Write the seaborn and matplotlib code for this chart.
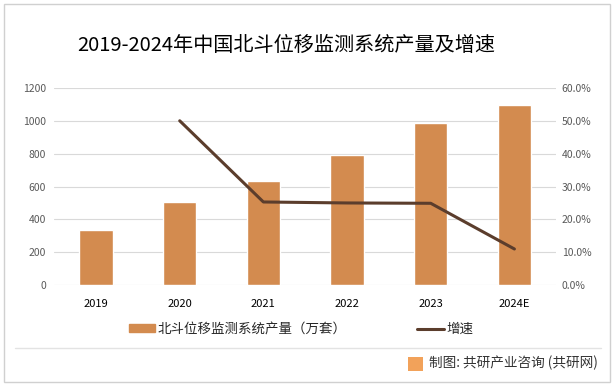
import numpy as np
import pandas as pd
import matplotlib
matplotlib.use('Agg')
import matplotlib.pyplot as plt
import seaborn as sns
from matplotlib.patches import Rectangle, Patch
from matplotlib.lines import Line2D

# 数据
years = ['2019', '2020', '2021', '2022', '2023', '2024E']
output = [335, 505, 634, 792, 987, 1096]          # 万套
growth = [np.nan, 50.0, 25.3, 25.0, 24.9, 11.0]   # %

sns.set_theme(style='white')
plt.rcParams['font.family'] = ['Noto Sans CJK SC', 'DejaVu Sans']

bar_color = '#D38B4F'
line_color = '#5B3D2C'
grid_color = '#D9D9D9'
tick_color = '#595959'

df = pd.DataFrame({'年份': years, '产量': output, '增速': growth})

fig = plt.figure(figsize=(6.16, 3.89), dpi=100)
ax = fig.add_axes([0.088, 0.267, 0.815, 0.507])

sns.barplot(data=df, x='年份', y='产量', color=bar_color, width=0.4,
            saturation=1, ax=ax, zorder=2)
ax.set_ylim(0, 1200)
ax.set_yticks(range(0, 1201, 200))
ax.yaxis.grid(True, color=grid_color, linewidth=0.8, zorder=0)
ax.set_axisbelow(True)
ax.set_xlabel('')
ax.set_ylabel('')
for s in ax.spines.values():
    s.set_visible(False)
ax.tick_params(axis='y', length=0, labelsize=7.5, colors=tick_color, pad=6)
ax.tick_params(axis='x', length=0, labelsize=8, colors='#000000', pad=10)

ax2 = ax.twinx()
sns.lineplot(x=np.arange(len(years)), y=df['增速'], color=line_color,
             linewidth=2.2, ax=ax2, zorder=3)
ax2.set_ylim(0, 60)
ax2.set_yticks(range(0, 61, 10))
ax2.set_yticklabels([f'{v:.1f}%' for v in range(0, 61, 10)])
ax2.set_ylabel('')
for s in ax2.spines.values():
    s.set_visible(False)
ax2.tick_params(axis='y', length=0, labelsize=7.5, colors=tick_color, pad=4)
ax.set_xlim(-0.5, len(years) - 0.5)

fig.text(0.465, 0.884, '2019-2024年中国北斗位移监测系统产量及增速',
         ha='center', va='center', fontsize=14.5, color='#000000')

handles = [Patch(color=bar_color), Line2D([0], [0], color=line_color, linewidth=2.2)]
fig.legend(handles, ['北斗位移监测系统产量（万套）', '增速'],
           loc='center left', bbox_to_anchor=(0.209, 0.154), ncol=2, frameon=False,
           fontsize=9.7, handlelength=1.95, handleheight=0.55, columnspacing=5.25,
           handletextpad=0.2, borderaxespad=0, borderpad=0)

# 外框与分隔线
fig.patches.append(Rectangle((0.0065, 0.018), 0.984, 0.972, transform=fig.transFigure,
                             fill=False, edgecolor='#D0D0D0', linewidth=1))
fig.lines.append(Line2D([0.025, 0.975], [0.105, 0.105], transform=fig.transFigure,
                        color='#E3E3E3', linewidth=1))
fig.patches.append(Rectangle((0.662, 0.046), 0.024, 0.036, transform=fig.transFigure,
                             facecolor='#F2A25A', edgecolor='none'))
fig.text(0.971, 0.066, '制图: 共研产业咨询 (共研网)', ha='right', va='center',
         fontsize=9.8, color='#333333')

fig.savefig('out.png', dpi=100)
